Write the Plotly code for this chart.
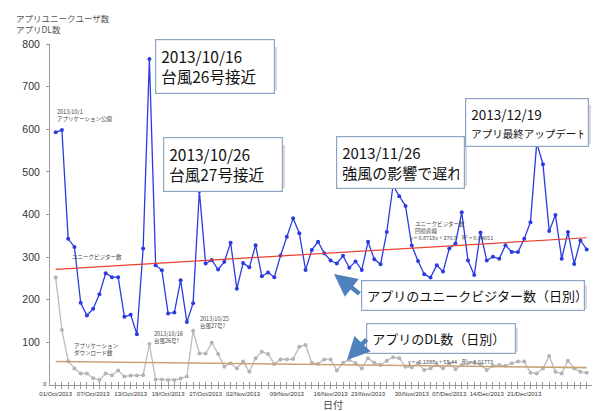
import pandas as pd
import plotly.graph_objects as go

# ---------------- data ----------------
MISSING_DATES = ["2013-10-21", "2013-10-22", "2013-11-20", "2013-12-03", "2013-12-10", "2013-12-17"]
ALL_DAYS = pd.date_range("2013-10-01", "2013-12-31")
DATES = [d.strftime("%d/%b/%Y") for d in ALL_DAYS if d.strftime("%Y-%m-%d") not in MISSING_DATES]

TICK_LABELS = ["01/Oct/2013", "07/Oct/2013", "13/Oct/2013", "19/Oct/2013", "27/Oct/2013",
               "02/Nov/2013", "09/Nov/2013", "16/Nov/2013", "23/Nov/2013", "30/Nov/2013",
               "07/Dec/2013", "14/Dec/2013", "21/Dec/2013"]

UNIQUE_VISITORS = [593, 598, 343, 324, 193, 163, 179, 213, 262, 253,
                   253, 160, 165, 119, 320, 765, 281, 269, 168, 170,
                   246, 148, 192, 455, 285, 293, 271, 289, 334, 226,
                   286, 276, 328, 255, 264, 253, 304, 348, 391, 356,
                   270, 317, 336, 309, 292, 285, 303, 275, 290, 270,
                   336, 295, 283, 359, 468, 443, 420, 327, 291, 260,
                   252, 281, 266, 320, 332, 405, 292, 258, 358, 292,
                   301, 296, 328, 312, 312, 343, 382, 568, 518, 361,
                   399, 296, 359, 284, 339, 318]

DOWNLOADS = [252, 129, 56, 39, 27, 27, 16, 12, 27, 23,
             34, 20, 22, 22, 23, 96, 13, 13, 12, 12,
             15, 20, 127, 74, 74, 99, 73, 43, 51, 39,
             55, 31, 63, 78, 73, 49, 60, 60, 61, 90,
             94, 52, 50, 60, 60, 34, 52, 59, 51, 39,
             63, 52, 47, 57, 65, 63, 43, 41, 51, 35,
             39, 47, 39, 51, 37, 47, 51, 52, 48, 35,
             45, 47, 45, 51, 55, 55, 29, 27, 39, 68,
             31, 27, 57, 39, 31, 29]

UV_TREND = (0.8718, 270.5)     # slope, intercept (x = 1..n)
DL_TREND = (-0.1698, 55.44)

# ---------------- layout helpers ----------------
W, H = 598, 411
ML, MR, MT, MB = 50, 6, 44, 26
PW, PH = W - ML - MR, H - MT - MB


def px(x):
    return (x - ML) / PW


def py(y):
    return (H - MB - y) / PH


JP = "Noto Sans CJK JP"
n = len(DATES)

fig = go.Figure()

fig.add_trace(go.Scatter(
    x=DATES, y=UNIQUE_VISITORS, mode="lines+markers",
    line=dict(color="#2a3be0", width=1.3),
    marker=dict(color="#2a3be0", size=4), hoverinfo="skip"))

fig.add_trace(go.Scatter(
    x=DATES, y=DOWNLOADS, mode="lines+markers",
    line=dict(color="#bcbcbc", width=1.3),
    marker=dict(color="#b4b4b4", size=4), hoverinfo="skip"))

fig.add_trace(go.Scatter(
    x=[DATES[0], DATES[-1]],
    y=[UV_TREND[0] * 1 + UV_TREND[1], UV_TREND[0] * n + UV_TREND[1]],
    mode="lines", line=dict(color="#e8412e", width=1.2), hoverinfo="skip"))

fig.add_trace(go.Scatter(
    x=[DATES[0], DATES[-1]],
    y=[DL_TREND[0] * 1 + DL_TREND[1], DL_TREND[0] * n + DL_TREND[1]],
    mode="lines", line=dict(color="#c9a273", width=1.6), hoverinfo="skip"))

# invisible trace for the overlay axis that draws the inner half of the "+" ticks
fig.add_trace(go.Scatter(x=DATES, y=DOWNLOADS, xaxis="x2", mode="markers",
                         marker=dict(opacity=0), hoverinfo="skip"))

xr = [-0.91, n - 1 + 0.85]
ticktext = [d if d in TICK_LABELS else "" for d in DATES]

fig.update_layout(
    width=W, height=H,
    margin=dict(l=ML, r=MR, t=MT, b=MB),
    paper_bgcolor="white", plot_bgcolor="white",
    showlegend=False,
    font=dict(family="Liberation Sans, " + JP, color="#333"),
    xaxis=dict(type="category", categoryorder="array", categoryarray=DATES,
               range=xr, showline=True, linecolor="#9a9a9a", linewidth=1,
               ticks="outside", ticklen=3, tickcolor="#9a9a9a", tickwidth=1,
               tickvals=DATES, ticktext=ticktext, tickangle=0,
               tickfont=dict(size=6, color="#333"),
               showgrid=False, zeroline=False),
    xaxis2=dict(type="category", categoryorder="array", categoryarray=DATES,
                range=xr, overlaying="x", anchor="y", side="bottom",
                showline=False, ticks="inside", ticklen=3, tickcolor="#9a9a9a",
                tickwidth=1, tickvals=DATES, showticklabels=False,
                showgrid=False, zeroline=False),
    yaxis=dict(range=[0, 800], tickvals=[100, 200, 300, 400, 500, 600, 700, 800],
               showline=True, linecolor="#9a9a9a", linewidth=1,
               ticks="outside", ticklen=3, tickcolor="#9a9a9a",
               tickfont=dict(size=10.5, color="#333"), ticklabelstandoff=4,
               showgrid=False, zeroline=False),
)

ann = []


def small(text, x, y, size=5.5, yanchor="top"):
    ann.append(dict(text=text, x=px(x), y=py(y), xref="paper", yref="paper",
                    xanchor="left", yanchor=yanchor, showarrow=False, align="left",
                    font=dict(family=JP, size=size, color="#444")))


# axis titles
ann.append(dict(text="アプリユニークユーザ数<br>アプリDL数", x=px(14), y=py(10),
                xref="paper", yref="paper", xanchor="left", yanchor="top",
                showarrow=False, align="left",
                font=dict(family=JP, size=8.5, color="#555")))
ann.append(dict(text="日付", x=px(333), y=py(404), xref="paper", yref="paper",
                xanchor="center", yanchor="middle", showarrow=False,
                font=dict(family=JP, size=10, color="#444")))
ann.append(dict(text="0", x=px(45), y=py(384), xref="paper", yref="paper",
                xanchor="center", yanchor="middle", showarrow=False,
                font=dict(size=6, color="#333")))

# small chart notes
small("2013/10/1<br>アプリケーション公開", 55, 106)
small("ユニークビジター数", 70, 257, yanchor="middle")
small("アプリケーション<br>ダウンロード数", 72, 340)
small("2013/10/16<br>台風26号?", 152, 328)
small("2013/10/25<br>台風27号?", 198, 313)
small("ユニークビジター数<br>回帰直線", 413, 218)
small("y = 0.8718x + 270.5&nbsp;&nbsp;&nbsp;&nbsp;R² = 0.04651", 408, 238, yanchor="middle")
small("y = -0.1698x + 55.44&nbsp;&nbsp;&nbsp;&nbsp;R² = 0.01773", 406, 362, yanchor="middle")


# callout boxes
def box(text, x0, x1, y0, y1, size):
    cx, cy = (x0 + x1) / 2, (y0 + y1) / 2
    ann.append(dict(text=text, x=px(cx), y=py(cy), xref="paper", yref="paper",
                    xanchor="center", yanchor="middle", showarrow=False, align="left",
                    width=x1 - x0 - 12, bgcolor="white", bordercolor="#8ea6c6",
                    borderwidth=1.2, borderpad=5,
                    font=dict(family=JP, size=size, color="#111")))


shapes = []


def shadow(x0, x1, y0, y1):
    shapes.append(dict(type="rect", xref="paper", yref="paper",
                       x0=px(x0 + 2), x1=px(x1 + 2), y0=py(y1 + 2), y1=py(y0 + 2),
                       fillcolor="#d9d9d9", line=dict(width=0), layer="above"))


boxes = [
    ("2013/10/16<br>台風26号接近", 155, 275, 45, 88, 15.5),
    ("2013/10/26<br>台風27号接近", 163, 283, 143, 186, 15.5),
    ("2013/11/26<br>強風の影響で遅れ", 336, 465, 140, 184, 15),
    ("2013/12/19<br><span style='font-size:10.5px'>アプリ最終アップデート</span>", 465, 589, 103, 142, 13.5),
    ("アプリのユニークビジター数（日別）", 361, 585, 283, 307, 13),
    ("アプリのDL数（日別）", 366, 516, 326, 350, 13),
]
for t, x0, x1, y0, y1, s in boxes:
    shadow(x0, x1, y0, y1)
    box(t, x0, x1, y0, y1, s)

# arrows
for (tx, ty, sx, sy) in [(334, 274, 361, 295), (347, 360, 368, 338)]:
    ann.append(dict(text="", x=px(tx), y=py(ty), xref="paper", yref="paper",
                    ax=sx - tx, ay=sy - ty, axref="pixel", ayref="pixel",
                    showarrow=True, arrowhead=2, arrowsize=1, arrowwidth=4.5,
                    arrowcolor="#4f81bd"))

fig.update_layout(annotations=ann, shapes=shapes)

fig.write_html("out.html", config={"displayModeBar": False},
               post_script="document.body.style.margin='0';")
